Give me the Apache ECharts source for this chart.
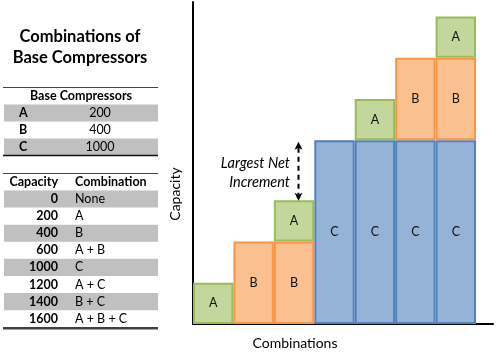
<!DOCTYPE html>
<html><head><meta charset="utf-8">
<script src="https://cdn.jsdelivr.net/npm/echarts@6/dist/echarts.min.js"></script>
<style>html,body{margin:0;padding:0;background:#fff}#c{width:504px;height:362px}</style>
</head><body><div id="c"></div>
<script>
// ---- data ----
var titleLines = ['Combinations of', 'Base Compressors'];
var baseHeader = 'Base Compressors';
var baseNames = ['A', 'B', 'C'];
var baseCaps = [200, 400, 1000];
var capHeader = ['Capacity', 'Combination'];
var capacities = [0, 200, 400, 600, 1000, 1200, 1400, 1600];
var combos = ['None', 'A', 'B', 'A + B', 'C', 'A + C', 'B + C', 'A + B + C'];
var categories = ['A', 'B', 'A + B', 'C', 'A + C', 'B + C', 'A + B + C'];
// segment heights as drawn in the picture (C is drawn shorter than to scale)
var cHeights = [null, null, null, 890, 890, 890, 890];
var bHeights = [null, 400, 400, null, null, 400, 400];
var aHeights = [200, null, 200, null, 200, null, 200];
var yMax = 1560;
var xMax = 7.42;

var FONT = 'Lato, "Open Sans", sans-serif';
var chart = echarts.init(document.getElementById('c'), null, {renderer: 'canvas'});

// rows are [value, position] so the value column is the stacked one
function pts(arr) { return arr.map(function (v, i) { return [v == null ? '-' : v, i + 0.5, categories[i]]; }); }

var graphics = [];
var TF = '12.5px ' + FONT, TFB = 'bold 12.5px ' + FONT;
// title
titleLines.forEach(function (t, i) {
  graphics.push({type: 'text', x: 80, y: 37 + i * 20.5,
    style: {text: t, font: 'bold 16.5px ' + FONT, fill: '#000', align: 'center', verticalAlign: 'middle'}});
});
// base table
var bx0 = 4, bx1 = 158, rowH = 17;
graphics.push({type: 'line', shape: {x1: bx0 - 1, y1: 87.5, x2: bx1, y2: 87.5}, style: {stroke: '#444', lineWidth: 1.2}});
graphics.push({type: 'text', x: 81, y: 96, style: {text: baseHeader, font: TFB, fill: '#000', align: 'center', verticalAlign: 'middle'}});
baseNames.forEach(function (n, i) {
  var cy = 113 + i * rowH;
  if (i % 2 === 0) graphics.push({type: 'rect', shape: {x: bx0, y: cy - rowH / 2, width: bx1 - bx0, height: rowH}, style: {fill: '#C0C0C0'}});
  graphics.push({type: 'text', x: 19, y: cy, style: {text: n, font: TFB, fill: '#000', verticalAlign: 'middle'}});
  graphics.push({type: 'text', x: 100, y: cy, style: {text: String(baseCaps[i]), font: TF, fill: '#000', align: 'center', verticalAlign: 'middle'}});
});
graphics.push({type: 'line', shape: {x1: bx0 - 1, y1: 155.5, x2: bx1, y2: 155.5}, style: {stroke: '#111', lineWidth: 1.5}});
// capacity table
var ty = 173.5;
graphics.push({type: 'line', shape: {x1: bx0 - 1, y1: ty, x2: bx1, y2: ty}, style: {stroke: '#444', lineWidth: 1.2}});
graphics.push({type: 'text', x: 58, y: 182, style: {text: capHeader[0], font: TFB, fill: '#000', align: 'right', verticalAlign: 'middle'}});
graphics.push({type: 'text', x: 75, y: 182, style: {text: capHeader[1], font: TFB, fill: '#000', verticalAlign: 'middle'}});
var cRowH = 17.1;
capacities.forEach(function (c, i) {
  var cy = 199 + i * cRowH;
  if (i % 2 === 0) graphics.push({type: 'rect', shape: {x: bx0, y: cy - cRowH / 2, width: bx1 - bx0, height: cRowH}, style: {fill: '#C0C0C0'}});
  graphics.push({type: 'text', x: 58, y: cy, style: {text: String(c), font: TFB, fill: '#000', align: 'right', verticalAlign: 'middle'}});
  graphics.push({type: 'text', x: 75, y: cy, style: {text: combos[i], font: TF, fill: '#000', verticalAlign: 'middle'}});
});
graphics.push({type: 'rect', shape: {x: bx0 - 1, y: 327, width: bx1 - bx0 + 1, height: 2.5}, style: {fill: '#404040'}});
// axis names
graphics.push({type: 'text', x: 175, y: 194, rotation: Math.PI / 2, style: {text: 'Capacity', font: '14px ' + FONT, fill: '#000', align: 'center', verticalAlign: 'middle'}});
graphics.push({type: 'text', x: 295, y: 343, style: {text: 'Combinations', font: '14px ' + FONT, fill: '#000', align: 'center', verticalAlign: 'middle'}});
// annotation
graphics.push({type: 'text', x: 290, y: 163, z: 10, style: {text: 'Largest Net', font: 'italic 14.5px ' + FONT, fill: '#000', align: 'right', verticalAlign: 'middle'}});
graphics.push({type: 'text', x: 290, y: 182, z: 10, style: {text: 'Increment', font: 'italic 14.5px ' + FONT, fill: '#000', align: 'right', verticalAlign: 'middle'}});

var colors = {
  A: {fill: '#C3D69B', border: '#9BBB59'},
  B: {fill: '#FAC090', border: '#F79646'},
  C: {fill: '#95B3D7', border: '#4F81BD'}
};
function barSeries(name, arr) {
  return {
    name: name, type: 'bar', stack: 'total', data: pts(arr),
    dimensions: ['value', 'pos', 'cat'],
    encode: {x: 1, y: 0},
    barCategoryGap: '0%', barWidth: '100%',
    itemStyle: {color: colors[name].fill, borderColor: colors[name].border, borderWidth: 2},
    label: {show: true, position: 'inside', formatter: name, color: '#111', fontSize: 12.5, fontFamily: FONT},
    emphasis: {disabled: true}, silent: true
  };
}
var lowLevel = bHeights[2] + aHeights[2];
var highLevel = cHeights[3];
var arrowPos = 2.6;

chart.setOption({
  animation: false,
  grid: {left: 193, right: 11, top: 2, bottom: 38, containLabel: false},
  xAxis: {type: 'value', min: 0, max: xMax, axisLine: {show: true, onZero: false, lineStyle: {color: '#000', width: 2}},
    axisTick: {show: false}, axisLabel: {show: false}, splitLine: {show: false}},
  yAxis: {type: 'value', min: 0, max: yMax, axisLine: {show: true, lineStyle: {color: '#000', width: 2}},
    axisTick: {show: false}, axisLabel: {show: false}, splitLine: {show: false}},
  series: [barSeries('C', cHeights), barSeries('B', bHeights), barSeries('A', aHeights)]
});

// double-headed dashed arrow between the A+B level and the C level, placed through the axes' scales
var pTop = chart.convertToPixel({gridIndex: 0}, [arrowPos, highLevel]);
var pBot = chart.convertToPixel({gridIndex: 0}, [arrowPos, lowLevel]);
var ax = Math.round(pTop[0]) + 0.5, tTop = pTop[1] + 1.5, tBot = pBot[1] + 0.5;
graphics.push({type: 'line', z: 20, shape: {x1: ax, y1: tTop + 6, x2: ax, y2: tBot - 6},
  style: {stroke: '#000', lineWidth: 2, lineDash: [5, 4]}});
graphics.push({type: 'polygon', z: 20, shape: {points: [[ax, tTop], [ax - 4, tTop + 8], [ax, tTop + 6], [ax + 4, tTop + 8]]}, style: {fill: '#000'}});
graphics.push({type: 'polygon', z: 20, shape: {points: [[ax, tBot], [ax - 4, tBot - 8], [ax, tBot - 6], [ax + 4, tBot - 8]]}, style: {fill: '#000'}});
chart.setOption({graphic: graphics});
</script></body></html>
